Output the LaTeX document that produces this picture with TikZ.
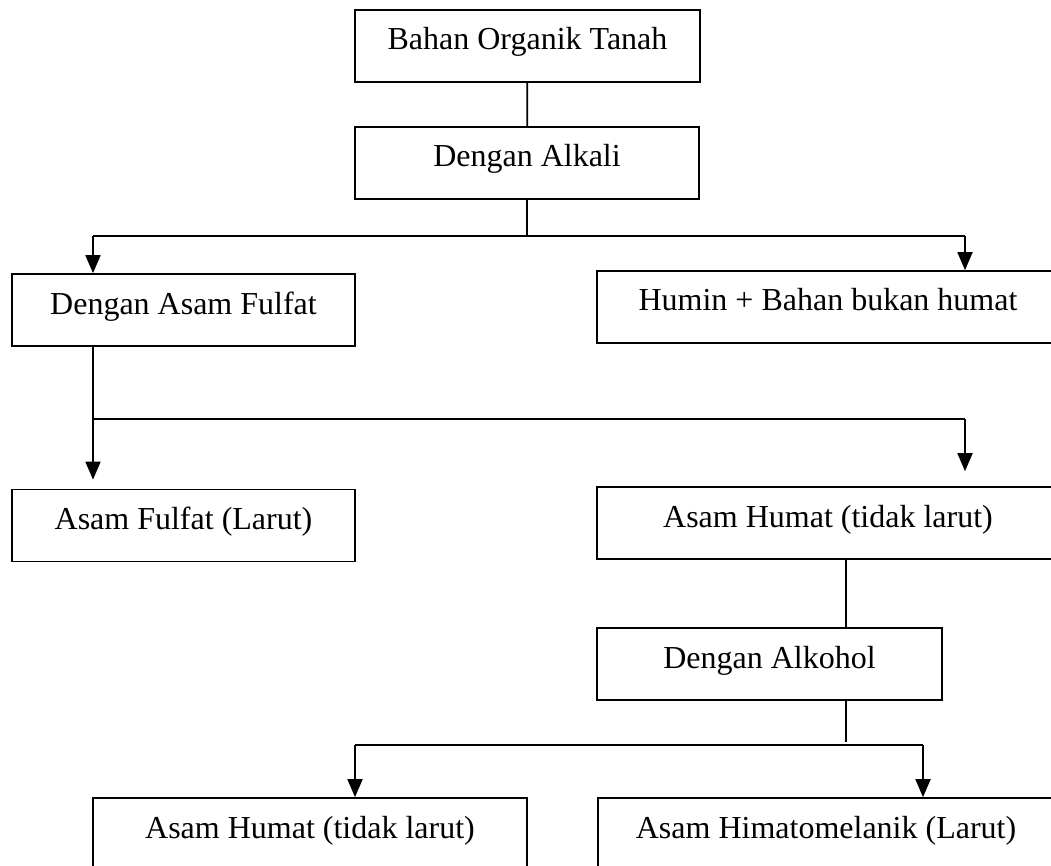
\documentclass[tikz,border=0pt]{standalone}
\usepackage{fontspec}
\setmainfont{Liberation Serif}
\usetikzlibrary{arrows.meta}
\tikzset{
  kotak/.style={draw, line width=1.7pt, minimum height=72pt, inner sep=0pt,
    text height=22pt, text depth=14pt, font=\fontsize{32}{38}\selectfont},
  garis/.style={line width=1.8pt},
  panah/.style={garis, -{Triangle[length=18pt,width=15pt]}}
}
\begin{document}
\begin{tikzpicture}[x=1pt,y=-1pt]
    \useasboundingbox (0,0) rectangle (1051,866);
    \clip (0,0) rectangle (1051,866);
    % kotak-kotak
    \node[kotak, minimum width=345pt] (bahan) at (527.5,46) {Bahan Organik Tanah};
    \node[kotak, minimum width=344pt] (alkali) at (527,163) {Dengan Alkali};
    \node[kotak, minimum width=343pt] (fulfat) at (183.5,310) {Dengan Asam Fulfat};
    \node[kotak, minimum width=462pt] (humin) at (828,307) {Humin + Bahan bukan humat};
    \node[kotak, minimum width=343pt] (larut) at (183.5,525.5) {Asam Fulfat (Larut)};
    \node[kotak, minimum width=462pt] (humat) at (828,523) {Asam Humat (tidak larut)};
    \node[kotak, minimum width=345pt] (alkohol) at (769.5,664) {Dengan Alkohol};
    \node[kotak, minimum width=434pt] (humatb) at (310,834) {Asam Humat (tidak larut)};
    \node[kotak, minimum width=456pt] (himato) at (826,834) {Asam Himatomelanik (Larut)};
    % titik cabang
    \coordinate (c1) at (527,236);
    \coordinate (c1l) at (93,236);
    \coordinate (c1r) at (965,236);
    \coordinate (c2l) at (93,419);
    \coordinate (c2r) at (965,419);
    \coordinate (c3) at (846,745);
    \coordinate (c3l) at (355,745);
    \coordinate (c3r) at (923,745);
    % garis
    \draw[garis] (bahan) -- (alkali);
    \draw[garis] (alkali.south) -- (c1);
    \draw[garis] (c1l) -- (c1r);
    \draw[panah] (c1l) -- (c1l |- fulfat.north);
    \draw[panah] (c1r) -- (c1r |- humin.north);
    \draw[garis] (fulfat.south -| c2l) -- (c2l) -- (c2r);
    \draw[panah, shorten >=9pt] (c2l) -- (c2l |- larut.north);
    \draw[panah, shorten >=15pt] (c2r) -- (c2r |- humat.north);
    \draw[garis] (humat.south -| c3) -- (alkohol.north -| c3);
    \draw[garis] (alkohol.south -| c3) -- ([yshift=3pt]c3);
    \draw[garis] (c3l) -- (c3r);
    \draw[panah] (c3l) -- (c3l |- humatb.north);
    \draw[panah] (c3r) -- (c3r |- himato.north);
\end{tikzpicture}
\end{document}
